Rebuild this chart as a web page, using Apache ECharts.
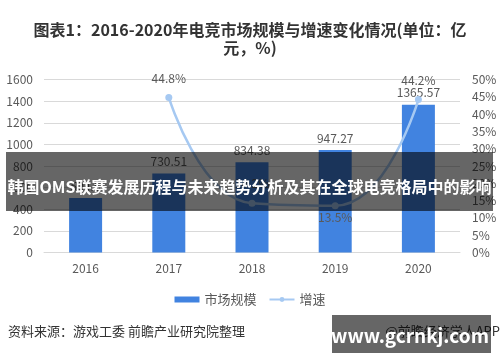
<!DOCTYPE html>
<html>
<head>
<meta charset="utf-8">
<script src="https://cdn.jsdelivr.net/npm/echarts@6/dist/echarts.min.js"></script>
<style>
html,body{margin:0;padding:0;background:#fff;}
#c{width:500px;height:362px;}
</style>
</head>
<body>
<div id="c"></div>
<script>
var years = ['2016', '2017', '2018', '2019', '2020'];
var marketSize = [504.6, 730.51, 834.38, 947.27, 1365.57];
var growth = [null, 44.8, 14.2, 13.5, 44.2];
var growthLabelPos = [null, 'top', 'top', 'bottom', 'top'];
var leftTicks = {min: 0, max: 1600, interval: 200};
var rightTicks = {min: 0, max: 50, interval: 5};

var FONT = '"Noto Sans CJK SC", "Noto Sans", sans-serif';
var chart = echarts.init(document.getElementById('c'), null, {renderer: 'canvas'});

var growthData = growth.map(function (v, i) {
  if (v === null) return null;
  return {
    value: v,
    label: {position: growthLabelPos[i], distance: growthLabelPos[i] === 'top' ? 10 : 2}
  };
});

chart.setOption({
  backgroundColor: '#fff',
  animation: false,
  textStyle: {fontFamily: FONT},
  title: {
    text: '图表1：2016-2020年电竞市场规模与增速变化情况(单位：亿\n元，%)',
    left: 'center',
    top: 16,
    textStyle: {fontFamily: FONT, fontSize: 16, fontWeight: 'bold', color: '#333', lineHeight: 18}
  },
  grid: {left: 44, right: 40, top: 79.5, bottom: 109.5, containLabel: false},
  legend: {
    top: 288,
    left: 'center',
    itemGap: 12,
    itemWidth: 25,
    itemHeight: 6,
    textStyle: {fontFamily: FONT, fontSize: 13, color: '#595959'},
    data: [{name: '市场规模', icon: 'rect'}, {name: '增速'}]
  },
  xAxis: {
    type: 'category',
    data: years,
    axisLine: {lineStyle: {color: '#d9d9d9'}},
    axisTick: {show: false},
    axisLabel: {color: '#595959', fontSize: 12, margin: 10, fontFamily: FONT}
  },
  yAxis: [{
    type: 'value',
    min: leftTicks.min, max: leftTicks.max, interval: leftTicks.interval,
    axisLine: {show: false}, axisTick: {show: false},
    axisLabel: {color: '#595959', fontSize: 12, margin: 11, fontFamily: FONT, formatter: function (v) { return String(v); }},
    splitLine: {lineStyle: {color: '#d9d9d9'}}
  }, {
    type: 'value',
    min: rightTicks.min, max: rightTicks.max, interval: rightTicks.interval,
    axisLine: {show: false}, axisTick: {show: false},
    axisLabel: {color: '#595959', fontSize: 12, margin: 12, formatter: function (v) { return v + '%'; }, fontFamily: FONT},
    splitLine: {show: false}
  }],
  series: [{
    name: '市场规模',
    type: 'bar',
    data: marketSize,
    barWidth: 33,
    itemStyle: {color: '#4183e0'},
    label: {show: true, position: 'top', distance: 6, color: '#595959', fontSize: 12, fontFamily: FONT}
  }, {
    name: '增速',
    type: 'line',
    yAxisIndex: 1,
    data: growthData,
    smooth: 0.5,
    symbol: 'circle',
    symbolSize: 7,
    lineStyle: {color: '#a6c9f2', width: 2.5},
    itemStyle: {color: '#a6c9f2'},
    label: {show: true, color: '#595959', fontSize: 12, fontFamily: FONT, formatter: '{c}%'}
  }],
  graphic: [
    {type: 'text', left: 8, top: 325, style: {text: '资料来源：游戏工委 前瞻产业研究院整理', fill: '#333', font: '13px ' + FONT}},
    {type: 'text', right: 0, top: 325, style: {text: '@前瞻经济学人APP', fill: '#333', font: '13px ' + FONT}},
    {type: 'rect', shape: {x: 6, y: 152, width: 487, height: 59}, style: {fill: 'rgba(0,0,0,0.6)'}, z: 100},
    {type: 'text', x: 249.5, y: 186.5, z: 101, style: {text: '韩国OMS联赛发展历程与未来趋势分析及其在全球电竞格局中的影响', fill: '#fff', font: 'bold 16px ' + FONT, textAlign: 'center', textVerticalAlign: 'middle'}},
    {type: 'rect', shape: {x: 332, y: 315, width: 159, height: 38}, style: {fill: 'rgba(0,0,0,0.6)'}, z: 100},
    {type: 'text', x: 410, y: 336, z: 101, style: {text: 'www.gcrnkj.com', fill: '#fff', font: 'bold 19px ' + FONT, textAlign: 'center', textVerticalAlign: 'middle'}}
  ]
});
</script>
</body>
</html>
